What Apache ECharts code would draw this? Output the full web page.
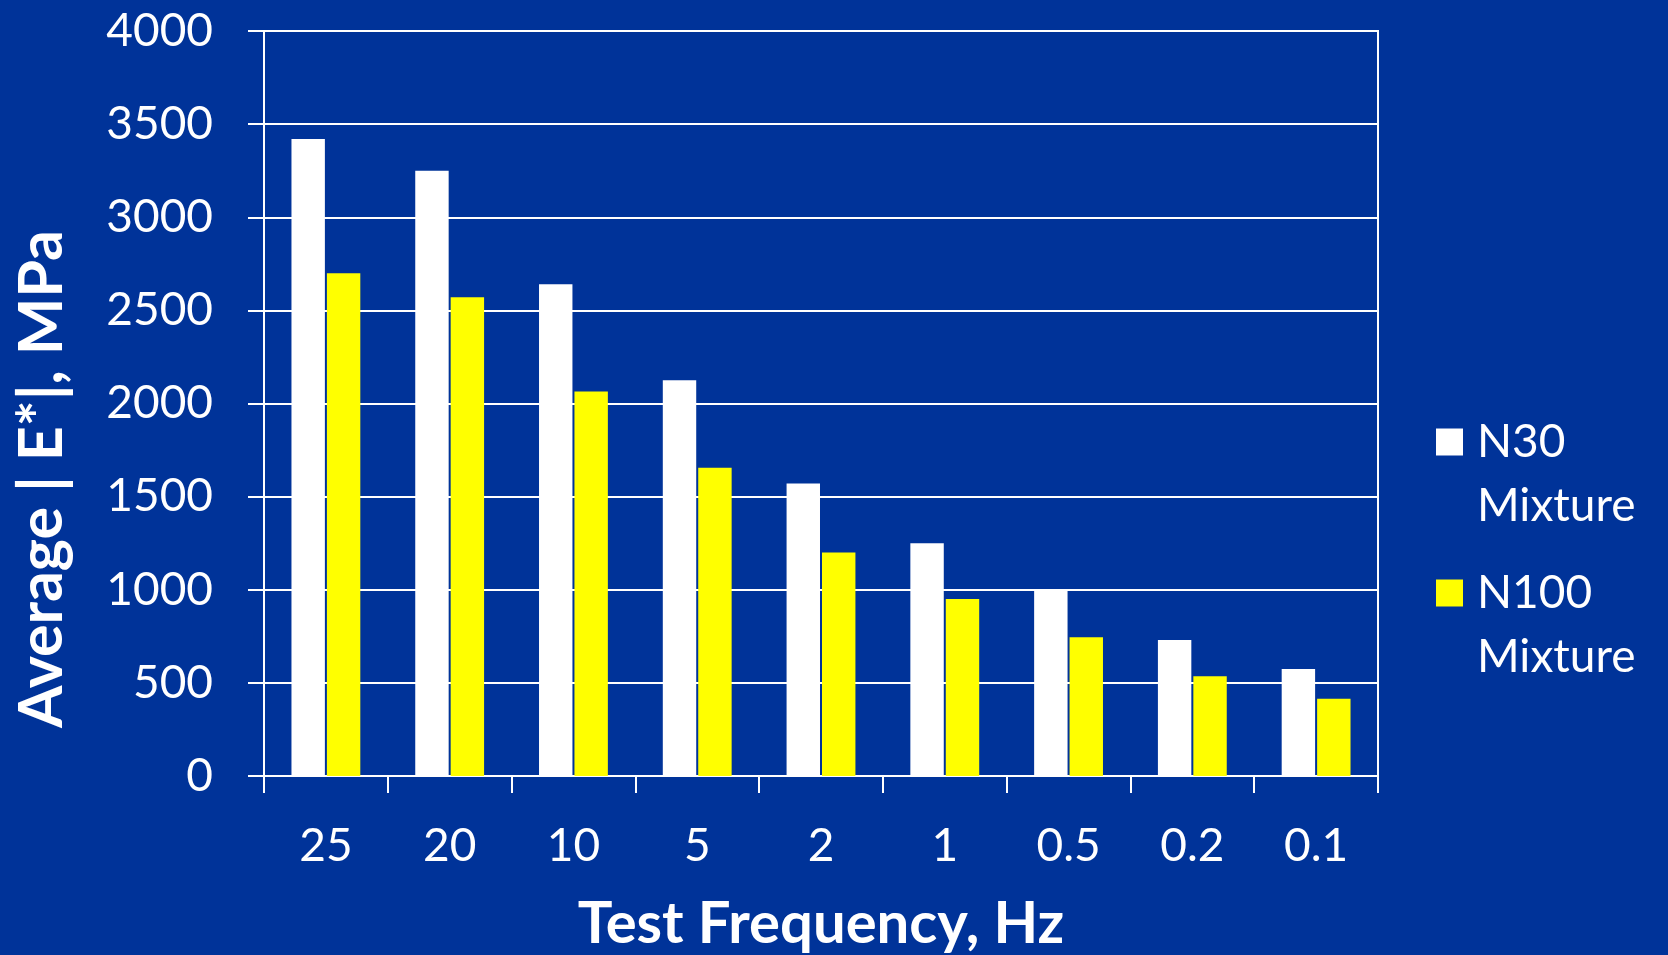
<!DOCTYPE html>
<html>
<head>
<meta charset="utf-8">
<title>Average |E*| by Test Frequency</title>
<script src="https://cdn.jsdelivr.net/npm/echarts@6/dist/echarts.min.js"></script>
<style>
  html, body { margin: 0; padding: 0; background: #003399; }
  #chart { width: 1668px; height: 955px; }
</style>
</head>
<body>
<div id="chart"></div>
<script>
// Test frequencies (Hz) shown along the x axis
const frequencies = ['25', '20', '10', '5', '2', '1', '0.5', '0.2', '0.1'];
// Average dynamic modulus |E*| in MPa for each mixture
const n30Values  = [3420, 3250, 2640, 2125, 1570, 1250, 995, 730, 575];
const n100Values = [2700, 2570, 2065, 1655, 1200, 950, 745, 535, 415];
const seriesNames = ['N30 Mixture', 'N100 Mixture'];
// Y axis range and step
const yMin = 0, yMax = 4000, yStep = 500;

const FONT = 'Lato, "Open Sans", sans-serif';
const WHITE = '#ffffff';

// Legend labels wrap onto two lines; a leading empty line keeps the
// first line level with the colour swatch.
const legendLabel = name => '\n' + name.replace(' ', '\n');
const legendText = {
  color: WHITE,
  fontFamily: FONT,
  fontSize: 46,
  lineHeight: 64,
  padding: [0, 0, 0, 9]
};

const chart = echarts.init(document.getElementById('chart'), null, { renderer: 'canvas' });

chart.setOption({
  backgroundColor: '#003399',
  animation: false,
  grid: {
    left: 264, right: 290, top: 31, bottom: 179,
    containLabel: false,
    outerBoundsMode: 'none',
    show: true,
    borderColor: WHITE,
    borderWidth: 2,
    backgroundColor: 'transparent'
  },
  legend: [
    {
      data: [seriesNames[0]],
      orient: 'vertical',
      left: 1436, top: 346,
      padding: 0,
      icon: 'rect',
      itemWidth: 27, itemHeight: 27,
      selectedMode: false,
      formatter: legendLabel,
      textStyle: legendText
    },
    {
      data: [seriesNames[1]],
      orient: 'vertical',
      left: 1436, top: 497,
      padding: 0,
      icon: 'rect',
      itemWidth: 27, itemHeight: 27,
      selectedMode: false,
      formatter: legendLabel,
      textStyle: legendText
    }
  ],
  xAxis: {
    type: 'category',
    data: frequencies,
    boundaryGap: true,
    name: 'Test Frequency, Hz',
    nameLocation: 'middle',
    nameGap: 119,
    nameTextStyle: { color: WHITE, fontFamily: FONT, fontWeight: 'bold', fontSize: 58 },
    axisLine: { show: true, lineStyle: { color: WHITE, width: 2 } },
    axisTick: { show: true, length: 17, alignWithLabel: false, lineStyle: { color: WHITE, width: 2 } },
    axisLabel: { color: WHITE, fontFamily: FONT, fontSize: 46, margin: 47 },
    splitLine: { show: false }
  },
  yAxis: {
    type: 'value',
    min: yMin, max: yMax, interval: yStep,
    axisLine: { show: true, lineStyle: { color: WHITE, width: 2 } },
    axisTick: { show: true, length: 16, lineStyle: { color: WHITE, width: 2 } },
    axisLabel: { color: WHITE, fontFamily: FONT, fontSize: 46, margin: 51, formatter: v => String(v) },
    splitLine: { show: true, lineStyle: { color: WHITE, width: 2 } }
  },
  series: [
    {
      name: seriesNames[0],
      type: 'bar',
      data: n30Values,
      barWidth: '27%',
      barGap: '6%',
      itemStyle: { color: '#ffffff' }
    },
    {
      name: seriesNames[1],
      type: 'bar',
      data: n100Values,
      barWidth: '27%',
      barGap: '6%',
      itemStyle: { color: '#ffff00' }
    }
  ],
  graphic: [
    {
      type: 'text',
      x: 42, y: 479,
      rotation: Math.PI / 2,
      style: {
        text: 'Average | E*|, MPa',
        fill: WHITE,
        font: 'bold 61px ' + FONT,
        align: 'center',
        verticalAlign: 'middle'
      }
    }
  ]
});
</script>
</body>
</html>
